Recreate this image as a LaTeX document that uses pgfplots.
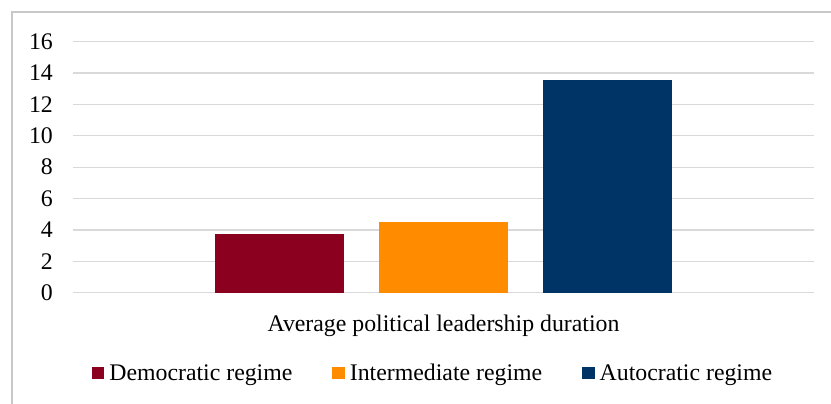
\documentclass[border=0pt]{standalone}
\usepackage{pgfplots}
\pgfplotsset{compat=1.18}
\usepackage{fontspec}
\setmainfont{Liberation Serif}
\definecolor{demred}{HTML}{8B001E}
\definecolor{intorange}{HTML}{FF8C00}
\definecolor{autnavy}{HTML}{003366}
\definecolor{gridgray}{HTML}{D9D9D9}
\definecolor{framegray}{HTML}{C8C8C8}
\begin{document}
\begin{tikzpicture}[font=\fontsize{23.8bp}{28bp}\selectfont]
\path[use as bounding box] (0bp,0bp) rectangle (831bp,404bp);
\draw[framegray, line width=1.5bp] (12bp,-5bp) -- (12bp,392bp) -- (840bp,392bp);
\begin{axis}[
  at={(73bp,111.3bp)}, anchor=south west,
  scale only axis, width=741bp, height=251bp,
  xmin=0, xmax=2, ymin=0, ymax=16,
  ytick={0,2,...,16},
  xtick={1}, xticklabels={Average political leadership duration},
  axis line style={draw=none},
  major tick length=0pt,
  ymajorgrids, grid style={gridgray, line width=1.3bp},
  ybar=34.5bp, bar width=129.5bp,
  /pgf/number format/assume math mode=true,
  tick label style={font=\fontsize{23.8bp}{28bp}\selectfont\rmfamily},
  yticklabel style={inner sep=0pt, anchor=east, xshift=-20bp},
  xticklabel style={inner sep=0pt, anchor=north, yshift=-22bp},
  legend columns=3,
  legend style={at={(0.4845,-0.32)}, anchor=center, draw=none, fill=none,
    font=\fontsize{23.8bp}{28bp}\selectfont\rmfamily,
    nodes={inner sep=0pt},
    /tikz/every odd column/.append style={column sep=5bp},
    /tikz/every even column/.append style={column sep=40bp}},
  legend image code/.code={\fill[#1,draw=none] (0bp,-6.25bp) rectangle (12.5bp,6.25bp);},
]
\addplot[fill=demred, draw=none] coordinates {(1,3.75)};
\addlegendentry{Democratic regime}
\addplot[fill=intorange, draw=none] coordinates {(1,4.5)};
\addlegendentry{Intermediate regime}
\addplot[fill=autnavy, draw=none] coordinates {(1,13.55)};
\addlegendentry{Autocratic regime}
\end{axis}
\end{tikzpicture}
\end{document}
